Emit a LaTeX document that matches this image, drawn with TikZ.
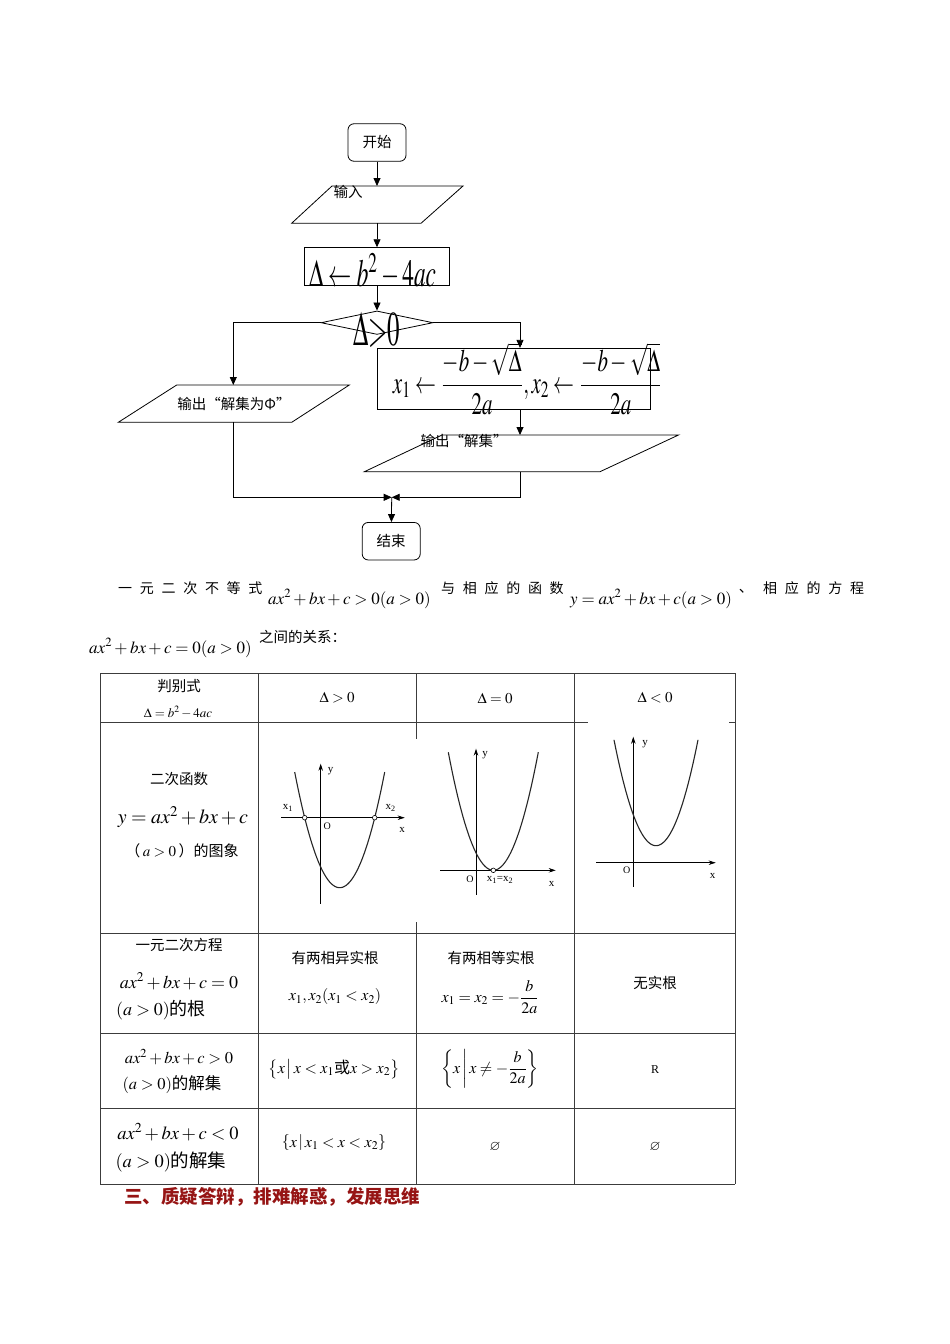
\documentclass[tikz,border=0pt]{standalone}
\usepackage{mathptmx}
\usepackage[no-math]{fontspec}
\usepackage{amsmath,amssymb}
\usepackage{graphicx}
\usetikzlibrary{arrows.meta,shapes.geometric}
\setmainfont{Noto Sans CJK SC}
\newfontfamily\latin{Liberation Serif}
\definecolor{lineG}{RGB}{60,60,60}
\definecolor{headRed}{RGB}{150,20,20}
\newcommand{\fsz}[1]{\fontsize{#1}{#1}\selectfont}

\begin{document}
\begin{tikzpicture}[x=1pt,y=-1pt,font=\fsz{14.5}]
  \tikzset{term/.style={draw,line width=0.8pt,rounded corners=6pt,minimum width=58pt,minimum height=37.5pt,inner sep=0pt},
    proc/.style={draw,line width=0.8pt,minimum height=37.5pt,inner sep=0pt},
    arr/.style={-{Triangle[length=8pt,width=7pt]},line width=0.8pt},
    flow/.style={line width=0.8pt},
    tline/.style={draw=lineG,line width=1pt},
    parab/.style={line width=1.1pt,black!85},
    ax/.style={line width=0.7pt,-{Stealth[length=7pt,width=4.5pt]}},
    lbl/.style={inner sep=0pt,font=\latin\fsz{11}},
    dot/.style={draw,fill=white,line width=0.6pt},
    spc/.style={anchor=west,inner sep=0pt,font=\fsz{14}\addfontfeature{LetterSpace=55}},
    pmath/.style={anchor=base west,inner sep=0pt,font=\fsz{17}}}
  \fill[white] (0,0) rectangle (950,1344);
  \useasboundingbox (0,0) rectangle (950,1344);

  % flow chart
  \node[term] (start) at (377,142.5) {开始};
  \draw[flow] (332,186) -- (463,186) -- (421,223.3) -- (291.6,223.3) -- cycle;
  \coordinate (inN) at (377,186);
  \coordinate (inS) at (377,223.3);
  \node (inLbl) at (348,192) {输入};
  \node[proc,minimum width=144.4pt] (disc) at (377,266.4) {};
  \node[anchor=base,inner sep=0pt] (discTxt) at (372.5,286) {\resizebox{127pt}{33pt}{$\Delta\leftarrow b^{2}-4ac$}};
  \node[draw,diamond,flow,minimum width=112pt,minimum height=23.5pt,inner sep=0pt] (dec) at (377,322.7) {};
  \node[inner sep=0pt] (decTxt) at (376.5,329.5) {\resizebox*{47pt}{35pt}{$\Delta{>}0$}};

  \draw[flow] (176.7,385) -- (349.3,385) -- (291.7,422.3) -- (118.3,422.3) -- cycle;
  \coordinate (outEN) at (233.3,385);
  \coordinate (outES) at (233.3,422.3);
  \node (outE) at (234,403.5) {输出“解集为Φ”};

  \node[proc,minimum width=272.7pt,minimum height=61pt] (roots) at (513.7,378.8) {};
  \node[inner sep=0pt] (rootsTxt) at (527.5,378.9) {\resizebox*{269pt}{72pt}{$x_1\leftarrow\dfrac{-b-\sqrt{\Delta}}{2a},x_2\leftarrow\dfrac{-b-\sqrt{\Delta}}{2a}$}};

  \draw[flow] (442,435) -- (678.5,435) -- (600,471.7) -- (364.4,471.7) -- cycle;
  \coordinate (outSN) at (520,435);
  \coordinate (outSS) at (520,471.7);
  \node (outS) at (464,441) {输出“解集”};

  \node[term] (end) at (391.2,541.2) {结束};
  \coordinate (mrg) at (391.7,497.3);

  \draw[arr] (start) -- (inN);
  \draw[arr] (inS) -- (disc);
  \draw[arr] (disc) -- (dec);
  \draw[arr] (dec.west) -| (outEN);
  \draw[arr] (dec.east) -| ([xshift=6.3pt]roots.north);
  \draw[arr] ([xshift=6.3pt]roots.south) -- (outSN);
  \draw[arr] (outES) |- (mrg);
  \draw[arr] (outSS) |- (mrg);
  \draw[arr] (mrg) -- (end);

  % text lines
  \node[spc] (p1) at (118,588) {一元二次不等式};
  \node[pmath] (p2) at (268,604) {$ax^2+bx+c>0(a>0)$};
  \node[spc] (p3) at (441,588) {与相应的函数};
  \node[pmath] (p4) at (570,604) {$y=ax^2+bx+c(a>0)$};
  \node[inner sep=0pt] (p5) at (746,591) {、};
  \node[spc] (p6) at (763,588) {相应的方程};
  \node[pmath] (p7) at (89,653) {$ax^2+bx+c=0(a>0)$};
  \node[anchor=west,inner sep=0pt] (p8) at (259,637) {之间的关系：};

  % table
  \foreach \x in {100,258,416,574,735}
    \draw[tline] (\x,673) -- (\x,1184);
  \foreach \y in {673,722,933,1033,1108,1184}
    \draw[tline] (100,\y) -- (735,\y);
  \fill[white] (408,739) rectangle (562,922);
  \fill[white] (588,721) rectangle (729,900);

  \node (h0a) at (179,686) {判别式};
  \node[font=\fsz{13}] (h0b) at (178,712) {$\Delta=b^2-4ac$};
  \node[font=\fsz{15}] (h1) at (337,698) {$\Delta>0$};
  \node[font=\fsz{15}] (h2) at (495,698) {$\Delta=0$};
  \node[font=\fsz{15}] (h3) at (655,698) {$\Delta<0$};

  \node (f1) at (179,779) {二次函数};
  \node[font=\fsz{20}] (f2) at (183,817) {$y=ax^2+bx+c$};
  \node[font=\fsz{15}] (f3) at (182,851) {（\,$a>0$\,）的图象};

  % graph D>0
  \draw[ax] (320.7,903.7) -- (320.7,763.7);
  \draw[ax] (281,817.7) -- (404.7,817.7);
  \draw[parab] plot[domain=-45:45,samples=50] ({339.7+\x},{887.7-0.0571*\x*\x});
  \draw[dot] (304.7,817.7) circle (2.3pt);
  \draw[dot] (374.7,817.7) circle (2.3pt);
  \node[lbl] (g1a) at (288,808) {x\textsubscript{1}};
  \node[lbl] (g1b) at (390.7,808) {x\textsubscript{2}};
  \node[lbl] (g1c) at (402,830) {x};
  \node[lbl] (g1d) at (330.7,771) {y};
  \node[lbl,font=\latin\fsz{10}] (g1e) at (327.3,826) {O};

  % graph D=0
  \draw[ax] (476,894.7) -- (476,748.7);
  \draw[ax] (440,870.3) -- (555.7,870.3);
  \draw[parab] plot[domain=-45:45,samples=50] ({493.3+\x},{870.3-0.0583*\x*\x});
  \draw[dot] (493.3,870.3) circle (2.3pt);
  \node[lbl] (g2a) at (485,755) {y};
  \node[lbl,font=\latin\fsz{10}] (g2b) at (470,879.3) {O};
  \node[lbl] (g2c) at (500,880) {x\textsubscript{1}=x\textsubscript{2}};
  \node[lbl] (g2d) at (551.7,883.7) {x};

  % graph D<0
  \draw[ax] (633.3,886.7) -- (633.3,736.7);
  \draw[ax] (596,862.7) -- (715.7,862.7);
  \draw[parab] plot[domain=-42:42,samples=50] ({656+\x},{845.7-0.06*\x*\x});
  \node[lbl] (g3a) at (645,744) {y};
  \node[lbl,font=\latin\fsz{10}] (g3b) at (626.7,870) {O};
  \node[lbl] (g3c) at (712.7,876) {x};

  \node (r1a) at (179,945) {一元二次方程};
  \node[font=\fsz{18}] (r1b) at (179,981) {$ax^2+bx+c=0$};
  \node[font=\fsz{18}] (r1c) at (161,1010) {$(a>0)$的根};
  \node (r1d) at (335,958) {有两相异实根};
  \node[font=\fsz{16}] (r1e) at (335,996.7) {$x_1,x_2(x_1<x_2)$};
  \node (r1f) at (491,958) {有两相等实根};
  \node[font=\fsz{16}] (r1g) at (490,996.7) {$x_1=x_2=-\dfrac{b}{2a}$};
  \node (r1h) at (655,983) {无实根};

  \node[font=\fsz{16.5}] (r2a) at (179,1057) {$ax^2+bx+c>0$};
  \node[font=\fsz{16.5}] (r2b) at (172,1085) {$(a>0)$的解集};
  \node[font=\fsz{16}] (r2c) at (334,1069) {$\left\{x\,\middle|\,x<x_1\text{或}x>x_2\right\}$};
  \node[font=\fsz{16}] (r2d) at (490,1069) {$\left\{x\,\middle|\,x\neq-\dfrac{b}{2a}\right\}$};
  \node[font=\latin\fsz{12}] (r2e) at (655,1070) {R};

  \node[font=\fsz{18.5}] (r3a) at (178,1132) {$ax^2+bx+c<0$};
  \node[font=\fsz{18.5}] (r3b) at (171,1162) {$(a>0)$的解集};
  \node[font=\fsz{16}] (r3c) at (334,1143) {$\left\{x\,\middle|\,x_1<x<x_2\right\}$};
  \node[font=\fsz{14}] (r3d) at (495,1147) {$\varnothing$};
  \node[font=\fsz{14}] (r3e) at (655,1147) {$\varnothing$};

  \node[anchor=west,inner sep=0pt,text=headRed,font=\fsz{18.5}\bfseries] (hd) at (124,1197) {三、质疑答辩，排难解惑，发展思维};
\end{tikzpicture}
\end{document}
